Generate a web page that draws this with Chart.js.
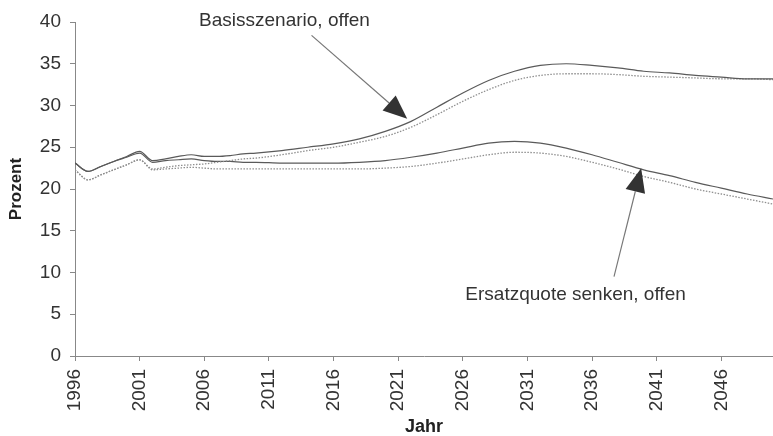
<!DOCTYPE html>
<html>
<head>
<meta charset="utf-8">
<script src="https://cdn.jsdelivr.net/npm/chart.js@4/dist/chart.umd.min.js"></script>
<style>
  html, body { margin: 0; padding: 0; background: #fff; }
  #wrap { width: 773px; height: 436px; }
</style>
</head>
<body>
<div id="wrap"><canvas id="quoteChart"></canvas></div>
<script>
const years = [1996, 1997, 1998, 1999, 2000, 2001, 2002, 2003, 2004, 2005, 2006, 2007, 2008, 2009, 2010,
  2012, 2014, 2016, 2018, 2020, 2022, 2024, 2026, 2028, 2030, 2032, 2034, 2036, 2038, 2040,
  2042, 2044, 2046, 2048, 2050];

// Basisszenario, offen
const basisSolid = [23.1, 22.1, 22.7, 23.3, 23.9, 24.5, 23.4, 23.6, 23.9, 24.1, 23.9, 23.9, 24.0, 24.2, 24.3,
  24.6, 25.0, 25.4, 26.0, 26.9, 28.1, 29.8, 31.5, 33.0, 34.1, 34.8, 35.0, 34.8, 34.5, 34.1,
  33.9, 33.6, 33.4, 33.2, 33.2];
const basisDotted = [22.3, 21.1, 21.7, 22.3, 22.9, 23.5, 22.4, 22.6, 22.8, 22.9, 23.0, 23.2, 23.4, 23.6, 23.7,
  24.1, 24.6, 25.0, 25.6, 26.3, 27.4, 28.9, 30.5, 31.9, 33.0, 33.6, 33.8, 33.8, 33.7, 33.5,
  33.4, 33.3, 33.2, 33.2, 33.1];

// Ersatzquote senken, offen
const senkenSolid = [23.1, 22.1, 22.7, 23.3, 23.8, 24.3, 23.2, 23.4, 23.5, 23.6, 23.4, 23.3, 23.3, 23.2, 23.2,
  23.1, 23.1, 23.1, 23.2, 23.4, 23.8, 24.3, 24.9, 25.5, 25.7, 25.5, 24.9, 24.1, 23.2, 22.3,
  21.6, 20.8, 20.1, 19.4, 18.8];
const senkenDotted = [22.3, 21.1, 21.7, 22.3, 22.9, 23.5, 22.3, 22.4, 22.5, 22.6, 22.5, 22.4, 22.4, 22.4, 22.4,
  22.4, 22.4, 22.4, 22.4, 22.5, 22.7, 23.1, 23.6, 24.1, 24.4, 24.3, 23.9, 23.2, 22.4, 21.5,
  20.8, 20.0, 19.4, 18.8, 18.2];

const yearTicks = [1996, 2001, 2006, 2011, 2016, 2021, 2026, 2031, 2036, 2041, 2046];

// labels with arrows, positions in axis units
const notes = [
  { text: 'Basisszenario, offen', tx: 2005.6, ty: 40.2, from: [2014.3, 38.4], to: [2021.7, 28.4] },
  { text: 'Ersatzquote senken, offen', tx: 2026.2, ty: 7.3, from: [2037.7, 9.5], to: [2039.8, 22.5] }
];

const FONT = '"Liberation Sans", Arial, Helvetica, sans-serif';

function toPoints(vals) {
  return years.map((y, i) => ({ x: y, y: vals[i] }));
}

function lineSet(label, vals, dotted) {
  return {
    label: label,
    data: toPoints(vals),
    borderColor: dotted ? '#8f8f8f' : '#5a5a5a',
    borderWidth: dotted ? 1.3 : 1.2,
    borderDash: dotted ? [1.5, 1.5] : [],
    pointRadius: 0,
    fill: false,
    cubicInterpolationMode: 'monotone'
  };
}

const arrowNotes = {
  id: 'arrowNotes',
  afterDatasetsDraw(chart) {
    const ctx = chart.ctx;
    const xs = chart.scales.x, ys = chart.scales.y;
    ctx.save();
    notes.forEach(n => {
      const x0 = xs.getPixelForValue(n.from[0]), y0 = ys.getPixelForValue(n.from[1]);
      const x1 = xs.getPixelForValue(n.to[0]), y1 = ys.getPixelForValue(n.to[1]);
      const ang = Math.atan2(y1 - y0, x1 - x0);
      const headLen = 24, headHalf = 10;
      const bx = x1 - headLen * Math.cos(ang), by = y1 - headLen * Math.sin(ang);
      ctx.strokeStyle = '#777';
      ctx.lineWidth = 1.2;
      ctx.beginPath();
      ctx.moveTo(x0, y0);
      ctx.lineTo(bx, by);
      ctx.stroke();
      ctx.fillStyle = '#333';
      ctx.beginPath();
      ctx.moveTo(x1, y1);
      ctx.lineTo(bx + headHalf * Math.sin(ang), by - headHalf * Math.cos(ang));
      ctx.lineTo(bx - headHalf * Math.sin(ang), by + headHalf * Math.cos(ang));
      ctx.closePath();
      ctx.fill();

      ctx.fillStyle = '#333';
      ctx.font = '19px ' + FONT;
      ctx.textAlign = 'left';
      ctx.textBaseline = 'middle';
      ctx.fillText(n.text, xs.getPixelForValue(n.tx), ys.getPixelForValue(n.ty));
    });
    ctx.restore();
  }
};

new Chart(document.getElementById('quoteChart'), {
  type: 'line',
  data: {
    datasets: [
      lineSet('Basisszenario, offen', basisSolid, false),
      lineSet('Basisszenario, offen (gepunktet)', basisDotted, true),
      lineSet('Ersatzquote senken, offen', senkenSolid, false),
      lineSet('Ersatzquote senken, offen (gepunktet)', senkenDotted, true)
    ]
  },
  options: {
    responsive: true,
    maintainAspectRatio: false,
    animation: false,
    layout: { padding: { top: 22, right: 0, left: 0, bottom: 0 } },
    plugins: {
      legend: { display: false },
      tooltip: { enabled: false }
    },
    scales: {
      x: {
        type: 'linear',
        min: 1996,
        max: 2050,
        afterBuildTicks: axis => { axis.ticks = yearTicks.map(v => ({ value: v })); },
        afterFit: axis => { axis.height = 80; },
        border: { color: '#888', width: 1 },
        grid: { drawOnChartArea: false, color: '#888', tickLength: 5 },
        ticks: {
          minRotation: 90,
          maxRotation: 90,
          padding: 8,
          color: '#333',
          font: { family: FONT, size: 19 },
          callback: v => String(v)
        },
        title: {
          display: true,
          text: 'Jahr',
          color: '#222',
          font: { family: FONT, size: 18, weight: 'bold', lineHeight: 1 },
          padding: { top: 0, bottom: 0 }
        }
      },
      y: {
        min: 0,
        max: 40,
        afterFit: axis => { axis.width = 75; },
        border: { color: '#888', width: 1 },
        grid: { drawOnChartArea: false, color: '#888', tickLength: 5 },
        ticks: {
          stepSize: 5,
          padding: 9,
          color: '#333',
          font: { family: FONT, size: 19 }
        },
        title: {
          display: true,
          text: 'Prozent',
          color: '#222',
          font: { family: FONT, size: 17, weight: 'bold', lineHeight: 1 },
          padding: { top: 8, bottom: 0 }
        }
      }
    }
  },
  plugins: [arrowNotes]
});
</script>
</body>
</html>
